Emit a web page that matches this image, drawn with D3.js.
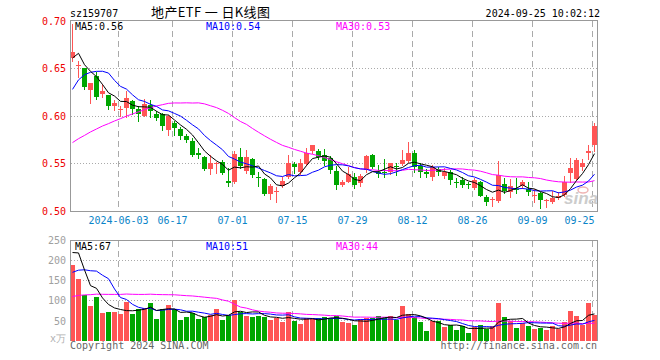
<!DOCTYPE html>
<html><head><meta charset="utf-8">
<script src="https://cdn.jsdelivr.net/npm/d3@7"></script>
<style>body{margin:0;background:#fff}svg{display:block}</style>
</head><body><svg id="c" width="660" height="360"></svg>
<script>
// ---- data ----
const tickIdx = [8,17,27,37,47,57,67,77,87];
const tickLabels = ["2024-06-03","06-17","07-01","07-15","07-29","08-12","08-26","09-09","09-25"];
const priceTicks = [0.70,0.65,0.60,0.55,0.50];
const volTicks = [250,200,150,100,50];

const open = [0.661,0.653,0.650,0.627,0.642,0.623,0.622,0.610,0.606,0.608,0.616,0.607,0.600,0.612,0.602,0.602,0.585,0.593,0.586,0.579,
0.574,0.561,0.557,0.544,0.549,0.552,0.532,0.530,0.557,0.542,0.555,0.536,0.534,0.518,0.520,0.526,0.536,0.549,0.541,0.549,
0.563,0.563,0.559,0.556,0.542,0.527,0.531,0.536,0.529,0.543,0.559,0.541,0.541,0.541,0.547,0.549,0.553,0.561,0.547,0.541,
0.536,0.544,0.537,0.541,0.531,0.533,0.528,0.524,0.531,0.515,0.512,0.511,0.528,0.520,0.523,0.526,0.523,0.516,0.519,0.511,
0.510,0.514,0.517,0.540,0.534,0.546,0.561,0.569];
const high = [0.697,0.658,0.650,0.635,0.646,0.634,0.622,0.617,0.611,0.626,0.617,0.611,0.618,0.617,0.605,0.603,0.601,0.595,0.588,0.581,
0.577,0.566,0.558,0.559,0.552,0.554,0.545,0.563,0.566,0.564,0.556,0.541,0.535,0.528,0.525,0.536,0.559,0.552,0.555,0.566,
0.570,0.565,0.565,0.558,0.547,0.533,0.546,0.540,0.539,0.559,0.560,0.548,0.555,0.551,0.551,0.564,0.573,0.564,0.550,0.544,
0.548,0.546,0.545,0.543,0.535,0.536,0.530,0.535,0.532,0.517,0.515,0.553,0.535,0.534,0.535,0.533,0.531,0.523,0.520,0.513,
0.521,0.520,0.537,0.556,0.556,0.555,0.569,0.593];
const low = [0.658,0.641,0.628,0.614,0.618,0.620,0.607,0.606,0.600,0.599,0.602,0.595,0.600,0.599,0.596,0.585,0.580,0.580,0.576,0.573,
0.558,0.556,0.543,0.539,0.540,0.539,0.526,0.529,0.545,0.540,0.536,0.526,0.517,0.513,0.509,0.525,0.535,0.540,0.539,0.548,
0.561,0.555,0.548,0.540,0.523,0.526,0.530,0.524,0.526,0.541,0.545,0.536,0.536,0.539,0.538,0.548,0.552,0.541,0.536,0.536,
0.533,0.538,0.535,0.528,0.525,0.525,0.524,0.523,0.516,0.506,0.505,0.510,0.519,0.515,0.519,0.524,0.517,0.510,0.503,0.504,
0.508,0.513,0.516,0.531,0.533,0.543,0.555,0.563];
const close = [0.667,0.654,0.631,0.635,0.620,0.626,0.610,0.614,0.607,0.619,0.607,0.602,0.613,0.605,0.598,0.589,0.600,0.587,0.579,0.575,
0.559,0.559,0.544,0.551,0.551,0.540,0.529,0.560,0.547,0.557,0.538,0.535,0.518,0.526,0.521,0.532,0.550,0.546,0.550,0.561,
0.569,0.557,0.553,0.543,0.527,0.530,0.539,0.527,0.537,0.558,0.546,0.539,0.540,0.550,0.546,0.554,0.561,0.546,0.541,0.539,
0.546,0.541,0.541,0.533,0.530,0.527,0.527,0.533,0.516,0.510,0.513,0.538,0.521,0.526,0.522,0.531,0.520,0.517,0.512,0.512,
0.514,0.516,0.531,0.545,0.554,0.551,0.563,0.589];
const volume = [188,153,115,86,110,69,72,72,67,96,67,80,82,94,55,79,89,79,52,59,
69,55,59,64,79,52,64,101,72,63,60,63,60,52,58,48,72,50,42,58,
54,57,59,57,61,47,45,40,55,57,57,62,57,62,52,86,67,60,46,24,
49,49,34,39,27,37,19,34,39,30,37,93,60,49,32,45,37,29,33,28,
36,30,48,75,61,40,94,65];
// closes / volumes of the 29 sessions before the first candle (for the moving averages)
const priorClose = [0.530,0.528,0.525,0.527,0.532,0.535,0.530,0.533,0.538,0.540,0.536,0.542,0.545,0.543,0.548,0.558,
0.575,0.580,0.570,0.565,0.554,0.576,0.610,0.610,0.625,0.629,0.691,0.670,0.648];
const priorVolume = [70,75,68,72,80,78,74,66,70,85,90,82,76,80,88,95,84,86,92,89,
100,105,110,119,171,158,325,281,143];

// ---- drawing ----
const svg = d3.select("#c");
const n = close.length;
const L = 70, R = 598;
const x = d3.scaleBand().domain(d3.range(n)).range([L, R]);
const y = d3.scaleLinear().domain([0.5, 0.7]).range([211, 21]);
const yv = d3.scaleLinear().domain([0, 250]).range([341, 240]);
const RED = "#ff5555", GREEN = "#00a600", GRID = "#aaaaaa";
const MONO = "'DejaVu Sans Mono', monospace";

function ma(series, prior, k) {
  const all = prior.concat(series), p = prior.length;
  return series.map((_, i) => d3.mean(all.slice(i + p - k + 1, i + p + 1)));
}

// header
svg.append("text").attr("x", 70).attr("y", 17).attr("font-family", MONO).attr("font-size", 10).text("sz159707");
svg.append("text").attr("x", 151).attr("y", 17).attr("font-family", "'Noto Sans CJK SC'").attr("font-size", 13)
  .attr("textLength", 119).attr("lengthAdjust", "spacing").style("white-space", "pre").text("地产ETF 一 日K线图");
svg.append("text").attr("x", 600).attr("y", 17).attr("text-anchor", "end").attr("font-family", MONO).attr("font-size", 10).text("2024-09-25 10:02:12");

// grid: horizontal dotted
const g = svg.append("g");
[0.65, 0.60, 0.55].forEach(p => {
  const yy = Math.floor(y(p)) + 0.5;
  g.append("line").attr("x1", L + 1).attr("x2", R - 1).attr("y1", yy).attr("y2", yy)
    .attr("stroke", GRID).attr("stroke-dasharray", "1,2");
});
[200, 150, 100, 50].forEach(v => {
  const yy = Math.floor(yv(v)) + 0.5;
  g.append("line").attr("x1", L + 1).attr("x2", R - 1).attr("y1", yy).attr("y2", yy)
    .attr("stroke", GRID).attr("stroke-dasharray", "1,2");
});
// vertical dashed
tickIdx.forEach(i => {
  const xx = x(i) + 0.5;
  g.append("line").attr("x1", xx).attr("x2", xx).attr("y1", 21).attr("y2", 211)
    .attr("stroke", GRID).attr("stroke-dasharray", "6,4");
  g.append("line").attr("x1", xx).attr("x2", xx).attr("y1", 241).attr("y2", 341)
    .attr("stroke", GRID).attr("stroke-dasharray", "6,4");
});

// sina watermark
svg.append("text").attr("x", 564).attr("y", 204).attr("font-family", "'Liberation Sans'")
  .attr("font-size", 17).attr("font-weight", "bold").attr("font-style", "italic").attr("fill", "#cccccc").text("sina");
svg.append("ellipse").attr("cx", 583).attr("cy", 190).attr("rx", 5).attr("ry", 3)
  .attr("fill", "none").attr("stroke", "#efb5b5").attr("stroke-width", 1.5);

// candles
const cg = svg.append("g").attr("shape-rendering", "crispEdges");
d3.range(n).forEach(i => {
  const up = close[i] >= open[i];
  const col = up ? RED : GREEN;
  const top = Math.round(y(Math.max(open[i], close[i])));
  const bot = Math.round(y(Math.min(open[i], close[i])));
  const hi = Math.round(y(high[i])), lo = Math.round(y(low[i]));
  cg.append("rect").attr("x", x(i) + 2).attr("width", 1).attr("y", hi).attr("height", Math.max(1, lo - hi + 1)).attr("fill", col);
  cg.append("rect").attr("x", x(i)).attr("width", 5).attr("y", top).attr("height", Math.max(1, bot - top)).attr("fill", col);
  const vt = Math.round(yv(volume[i]));
  cg.append("rect").attr("x", x(i)).attr("width", 5).attr("y", vt).attr("height", 341 - vt).attr("fill", col);
});

// moving averages
const lineP = d3.line().x((d, i) => x(i) + 2.5).y(d => y(d));
const lineV = d3.line().x((d, i) => x(i) + 2.5).y(d => yv(d));
const maP = [[5, "#000000"], [10, "#0000ff"], [30, "#ff00ff"]].map(([k, c]) => ({k, c, v: ma(close, priorClose, k)}));
const maV = [[5, "#000000"], [10, "#0000ff"], [30, "#ff00ff"]].map(([k, c]) => ({k, c, v: ma(volume, priorVolume, k)}));
maP.slice().reverse().forEach(m => svg.append("path").attr("d", lineP(m.v)).attr("fill", "none").attr("stroke", m.c).attr("stroke-width", 1));
maV.slice().reverse().forEach(m => svg.append("path").attr("d", lineV(m.v)).attr("fill", "none").attr("stroke", m.c).attr("stroke-width", 1));

// frames
const fg = svg.append("g").attr("fill", "none").attr("stroke", "#999999").attr("shape-rendering", "crispEdges");
fg.append("rect").attr("x", L + 0.5).attr("y", 20.5).attr("width", R - L - 1).attr("height", 190.5);
fg.append("path").attr("d", `M${L + 0.5},341V${240.5}H${R - 0.5}V341`);

// MA labels
const labX = [75, 206, 336];
maP.forEach((m, j) => svg.append("text").attr("x", labX[j]).attr("y", 30).attr("font-family", MONO).attr("font-size", 10)
  .attr("fill", m.c).text(`MA${m.k}:${m.v[n - 1].toFixed(2)}`));
maV.forEach((m, j) => svg.append("text").attr("x", labX[j]).attr("y", 250).attr("font-family", MONO).attr("font-size", 10)
  .attr("fill", m.c).text(`MA${m.k}:${Math.round(m.v[n - 1])}`));

// axes
const ay = svg.append("g").attr("transform", `translate(${L},0)`)
  .call(d3.axisLeft(y).tickValues(priceTicks).tickSize(0).tickPadding(4).tickFormat(d3.format(".2f")));
ay.select(".domain").remove();
ay.selectAll("text").attr("fill", "#ee0000").attr("font-family", MONO).attr("font-size", 10);

const av = svg.append("g").attr("transform", `translate(${L},0)`)
  .call(d3.axisLeft(yv).tickValues(volTicks).tickSize(0).tickPadding(4));
av.select(".domain").remove();
av.selectAll("text").attr("fill", "#a0a0a0").attr("font-family", MONO).attr("font-size", 10);
svg.append("text").attr("x", 66).attr("y", 342).attr("text-anchor", "end").attr("fill", "#b0b0b0")
  .attr("font-family", MONO).attr("font-size", 10).text("x万");

const ax = svg.append("g").attr("transform", `translate(-2.5,${213})`)
  .call(d3.axisBottom(x).tickValues(tickIdx).tickSize(0).tickPadding(4).tickFormat((d, i) => tickLabels[i]));
ax.select(".domain").remove();
ax.selectAll("text").attr("fill", "#0a84c8").attr("font-family", MONO).attr("font-size", 10);
// keep the last label inside the plot, as the original does
ax.selectAll(".tick").filter(d => d === tickIdx[tickIdx.length - 1]).select("text").attr("text-anchor", "end").attr("dx", 2);

// footer
svg.append("text").attr("x", 70).attr("y", 349).attr("font-family", MONO).attr("font-size", 10).attr("fill", "#666").text("Copyright 2024 SINA.COM");
svg.append("text").attr("x", 597).attr("y", 349).attr("text-anchor", "end").attr("font-family", MONO).attr("font-size", 10).attr("fill", "#666").text("http://finance.sina.com.cn");
</script></body></html>
